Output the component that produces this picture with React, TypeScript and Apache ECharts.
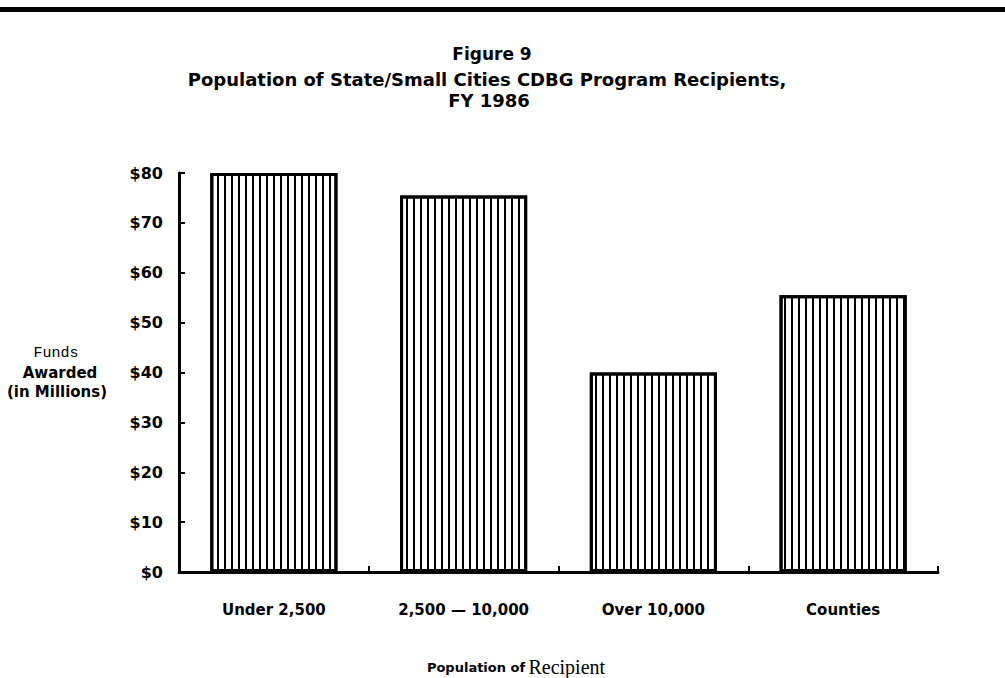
import React, { useEffect, useRef } from "react";
import * as echarts from "echarts";

const categories = ["Under 2,500", "2,500 — 10,000", "Over 10,000", "Counties"];
const funds = [80, 75.5, 40, 55.5];
const yTicks = [0, 10, 20, 30, 40, 50, 60, 70, 80];
const titleLines = ["Figure 9", "Population of State/Small Cities CDBG Program Recipients,", "FY 1986"];

export default function App() {
  const ref = useRef<HTMLDivElement>(null);
  useEffect(() => {
    document.body.style.margin = "0";
    const chart = echarts.init(ref.current!, null, { renderer: "svg" });
    const sans = "DejaVu Sans";
    chart.setOption({
      animation: false,
      backgroundColor: "#fff",
      grid: { left: 179, right: 67, top: 173, bottom: 106 },
      graphic: [
        { type: "rect", shape: { x: 0, y: 7, width: 1005, height: 5 }, style: { fill: "#000" } },
        { type: "text", x: 492, y: 54, style: { text: titleLines[0], font: `bold 17px "${sans}"`, fill: "#000", align: "center", verticalAlign: "middle" } },
        { type: "text", x: 487, y: 79, style: { text: titleLines[1], font: `bold 18px "${sans}"`, fill: "#000", align: "center", verticalAlign: "middle" } },
        { type: "text", x: 489, y: 100, style: { text: titleLines[2], font: `bold 18px "${sans}"`, fill: "#000", align: "center", verticalAlign: "middle" } },
        { type: "text", x: 56, y: 353, style: { text: "Funds", font: `15px "Liberation Mono"`, fill: "#000", align: "center", verticalAlign: "middle" } },
        { type: "text", x: 60, y: 373, style: { text: "Awarded", font: `bold 15px "${sans}"`, fill: "#000", align: "center", verticalAlign: "middle" } },
        { type: "text", x: 57, y: 392, style: { text: "(in Millions)", font: `bold 15px "${sans}"`, fill: "#000", align: "center", verticalAlign: "middle" } },
        {
          type: "text", x: 516, y: 667,
          style: {
            text: "{a|Population of} {b|Recipient}",
            rich: {
              a: { font: `bold 13px "${sans}"`, fill: "#000" },
              b: { font: `20px "Liberation Serif"`, fill: "#000" },
            },
            align: "center",
            verticalAlign: "middle",
          },
        },
      ],
      xAxis: {
        type: "category",
        data: categories,
        axisLine: { lineStyle: { color: "#000", width: 3 } },
        axisTick: { show: true, inside: true, length: 6, lineStyle: { color: "#000", width: 2 } },
        axisLabel: { color: "#000", fontFamily: sans, fontWeight: "bold", fontSize: 15, margin: 30 },
      },
      yAxis: {
        type: "value",
        min: 0,
        max: 80,
        interval: 10,
        splitLine: { show: false },
        axisLine: { show: true, lineStyle: { color: "#000", width: 3 } },
        axisTick: { show: true, inside: true, length: 6, lineStyle: { color: "#000", width: 2 } },
        axisLabel: {
          color: "#000", fontFamily: sans, fontWeight: "bold", fontSize: 16, margin: 16,
          formatter: (v: number) => (yTicks.includes(v) ? "$" + v : ""),
        },
      },
      series: [
        {
          type: "bar",
          data: funds,
          barCategoryGap: "33%",
          itemStyle: {
            color: "#fff",
            borderColor: "#000",
            borderWidth: 3,
            decal: {
              symbol: "rect",
              symbolSize: 1,
              color: "#000",
              backgroundColor: "#fff",
              dashArrayX: [2, 4.5],
              dashArrayY: [4, 0],
              rotation: 0,
            },
          },
        },
      ],
    });
    return () => chart.dispose();
  }, []);
  return <div ref={ref} style={{ position: "fixed", left: 0, top: 0, width: 1005, height: 678 }} />;
}
